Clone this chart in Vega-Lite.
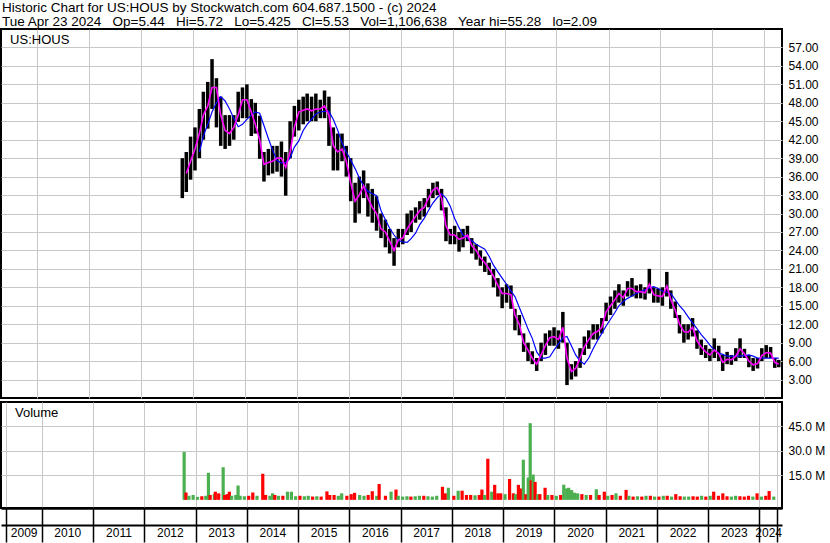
{
  "$schema": "https://vega.github.io/schema/vega-lite/v6.json",
  "padding": {"left": 0, "top": 1, "right": 0, "bottom": 0},
  "background": "white",
  "title": {
    "text": "Historic Chart for US:HOUS by Stockwatch.com 604.687.1500 - (c) 2024",
    "subtitle": "Tue Apr 23 2024 \u00a0 Op=5.44 \u00a0 Hi=5.72 \u00a0 Lo=5.425 \u00a0 Cl=5.53 \u00a0 Vol=1,106,638 \u00a0 Year hi=55.28 \u00a0 lo=2.09",
    "anchor": "start",
    "frame": "bounds",
    "font": "Liberation Sans",
    "subtitleFont": "Liberation Sans",
    "fontSize": 13.5,
    "subtitleFontSize": 13.5,
    "fontWeight": "normal",
    "subtitleFontWeight": "normal",
    "color": "black",
    "subtitleColor": "black",
    "subtitlePadding": 0,
    "offset": 0,
    "dx": 2
  },
  "config": {
    "title": {"fontSize": 13.5, "subtitleFontSize": 13.5, "font": "Liberation Sans", "subtitleFont": "Liberation Sans", "fontWeight": "normal", "color": "black", "subtitleColor": "black"},
    "view": {"stroke": "black", "strokeWidth": 2},
    "axis": {"labelFont": "Liberation Sans", "labelFontSize": 12, "labelColor": "black", "gridColor": "#c8c8c8", "gridOpacity": 1, "gridWidth": 1, "labelOverlap": false},
    "concat": {"spacing": 2}
  },
  "datasets": {
    "px": [
      {"d": "2012-10-18", "l": 32.5, "h": 39},
      {"d": "2012-11-15", "l": 33.5, "h": 40, "m": 36.5},
      {"d": "2012-12-15", "l": 35.5, "h": 42.5, "m": 38.5},
      {"d": "2013-01-15", "l": 37, "h": 44, "m": 40.5},
      {"d": "2013-02-15", "l": 39, "h": 47, "m": 43, "b": 40},
      {"d": "2013-03-15", "l": 42, "h": 49.8, "m": 46, "b": 42.6},
      {"d": "2013-04-15", "l": 43.8, "h": 51.4, "m": 47.5, "b": 44.5},
      {"d": "2013-05-15", "l": 47, "h": 55.1, "m": 50.5, "b": 46.5},
      {"d": "2013-06-15", "l": 44, "h": 52, "m": 50.5, "b": 48},
      {"d": "2013-07-15", "l": 41, "h": 49, "m": 46, "b": 49},
      {"d": "2013-08-15", "l": 40.5, "h": 46, "m": 43.5, "b": 48.3},
      {"d": "2013-09-15", "l": 41, "h": 46, "m": 43, "b": 47},
      {"d": "2013-10-15", "l": 42, "h": 46, "m": 44, "b": 45.5},
      {"d": "2013-11-15", "l": 44.9, "h": 49.8, "m": 46, "b": 44.1},
      {"d": "2013-12-15", "l": 45.5, "h": 50.5, "m": 48.5, "b": 44.5},
      {"d": "2014-01-15", "l": 45.5, "h": 51, "m": 48.5, "b": 45.3},
      {"d": "2014-02-15", "l": 42.6, "h": 48.6, "m": 46.5, "b": 46},
      {"d": "2014-03-15", "l": 43, "h": 48, "m": 44.5, "b": 46.5},
      {"d": "2014-04-15", "l": 38.9, "h": 45.9, "m": 42, "b": 46.3},
      {"d": "2014-05-15", "l": 35.2, "h": 40, "m": 38, "b": 44.3},
      {"d": "2014-06-15", "l": 36.2, "h": 40.5, "m": 38.3, "b": 42.2},
      {"d": "2014-07-15", "l": 36.5, "h": 41, "m": 38.5, "b": 40.3},
      {"d": "2014-08-15", "l": 36.8, "h": 41, "m": 39, "b": 38.6},
      {"d": "2014-09-15", "l": 36, "h": 41.7, "m": 39, "b": 38.2},
      {"d": "2014-10-15", "l": 32.9, "h": 40, "m": 37.5, "b": 38.3},
      {"d": "2014-11-15", "l": 39, "h": 45, "m": 40, "b": 39},
      {"d": "2014-12-15", "l": 42.5, "h": 47.5, "m": 44, "b": 40.8},
      {"d": "2015-01-15", "l": 43.5, "h": 48.5, "m": 46.5, "b": 41.8},
      {"d": "2015-02-15", "l": 44.5, "h": 49, "m": 46.8, "b": 43.5},
      {"d": "2015-03-15", "l": 45, "h": 49.5, "m": 47, "b": 44.5},
      {"d": "2015-04-15", "l": 45, "h": 49, "m": 46.7, "b": 45.3},
      {"d": "2015-05-15", "l": 45, "h": 49.5, "m": 47, "b": 46.2},
      {"d": "2015-06-15", "l": 45.5, "h": 48.5, "m": 47, "b": 46.5},
      {"d": "2015-07-15", "l": 45.5, "h": 50, "m": 47.5, "b": 46.6},
      {"d": "2015-08-15", "l": 41, "h": 49, "m": 46, "b": 46.6},
      {"d": "2015-09-15", "l": 37, "h": 44, "m": 41, "b": 45.3},
      {"d": "2015-10-15", "l": 37, "h": 43, "m": 40, "b": 43.6},
      {"d": "2015-11-15", "l": 38.5, "h": 43, "m": 40.5, "b": 41.5},
      {"d": "2015-12-15", "l": 36, "h": 41, "m": 38.5, "b": 40},
      {"d": "2016-01-15", "l": 32, "h": 39, "m": 35, "b": 38.7},
      {"d": "2016-02-15", "l": 28.5, "h": 35, "m": 32, "b": 37.3},
      {"d": "2016-03-15", "l": 30, "h": 36, "m": 33, "b": 35.8},
      {"d": "2016-04-15", "l": 32.5, "h": 37, "m": 34.5, "b": 34.5},
      {"d": "2016-05-15", "l": 29.5, "h": 34.9, "m": 32.5, "b": 33.6},
      {"d": "2016-06-15", "l": 28.5, "h": 34, "m": 31, "b": 33.2},
      {"d": "2016-07-15", "l": 27.2, "h": 32.8, "m": 30, "b": 32.9},
      {"d": "2016-08-15", "l": 26, "h": 30, "m": 27.5, "b": 30.5},
      {"d": "2016-09-15", "l": 24.5, "h": 29, "m": 27, "b": 29},
      {"d": "2016-10-15", "l": 23.5, "h": 27.5, "m": 25.5, "b": 27.6},
      {"d": "2016-11-15", "l": 21.5, "h": 26, "m": 24, "b": 26.5},
      {"d": "2016-12-15", "l": 24.5, "h": 27.5, "m": 25.7, "b": 25.6},
      {"d": "2017-01-15", "l": 25, "h": 27.5, "m": 26, "b": 25.4},
      {"d": "2017-02-15", "l": 26.5, "h": 30, "m": 27.5, "b": 25.3},
      {"d": "2017-03-15", "l": 27, "h": 30.5, "m": 28.5, "b": 25.9},
      {"d": "2017-04-15", "l": 28.5, "h": 31, "m": 29.5, "b": 26.8},
      {"d": "2017-05-15", "l": 29, "h": 32, "m": 30.5, "b": 28.2},
      {"d": "2017-06-15", "l": 29.5, "h": 32.5, "m": 31, "b": 29.2},
      {"d": "2017-07-15", "l": 31, "h": 34, "m": 32.5, "b": 30.5},
      {"d": "2017-08-15", "l": 32.5, "h": 35, "m": 33.8, "b": 31.7},
      {"d": "2017-09-15", "l": 33, "h": 35.2, "m": 34.2, "b": 32.6},
      {"d": "2017-10-15", "l": 30.5, "h": 34, "m": 32.5, "b": 33.2},
      {"d": "2017-11-15", "l": 25.5, "h": 31, "m": 28, "b": 32.5},
      {"d": "2017-12-15", "l": 25, "h": 27.5, "m": 26.5, "b": 31.2},
      {"d": "2018-01-15", "l": 25, "h": 28, "m": 26.5, "b": 29.2},
      {"d": "2018-02-15", "l": 23.8, "h": 27, "m": 25.8, "b": 27.7},
      {"d": "2018-03-15", "l": 24.5, "h": 27.5, "m": 26, "b": 26.5},
      {"d": "2018-04-15", "l": 25.5, "h": 28, "m": 26.5, "b": 26},
      {"d": "2018-05-15", "l": 23.5, "h": 26, "m": 24.8, "b": 25.6},
      {"d": "2018-06-15", "l": 22.5, "h": 25, "m": 24, "b": 25},
      {"d": "2018-07-15", "l": 21.5, "h": 24, "m": 22.8, "b": 24.6},
      {"d": "2018-08-15", "l": 20.5, "h": 23, "m": 22, "b": 24.2},
      {"d": "2018-09-15", "l": 20, "h": 22, "m": 21, "b": 23},
      {"d": "2018-10-15", "l": 18, "h": 21, "m": 19.8, "b": 21.6},
      {"d": "2018-11-15", "l": 16.5, "h": 19.5, "m": 18.3, "b": 20.5},
      {"d": "2018-12-15", "l": 14.6, "h": 18, "m": 17, "b": 19.5},
      {"d": "2019-01-15", "l": 15.5, "h": 18.5, "m": 17, "b": 18.5},
      {"d": "2019-02-15", "l": 14.5, "h": 18.3, "m": 16.8, "b": 17.4},
      {"d": "2019-03-15", "l": 11, "h": 14.5, "m": 13.5, "b": 16.5},
      {"d": "2019-04-15", "l": 10.2, "h": 13.5, "m": 12, "b": 14.7},
      {"d": "2019-05-15", "l": 7.5, "h": 10.5, "m": 9, "b": 13},
      {"d": "2019-06-15", "l": 6, "h": 9, "m": 7.8, "b": 11.2},
      {"d": "2019-07-15", "l": 5.5, "h": 7.6, "m": 6.5, "b": 9.7},
      {"d": "2019-08-15", "l": 4.4, "h": 6.5, "m": 5.5, "b": 7.5},
      {"d": "2019-09-15", "l": 6, "h": 9, "m": 7, "b": 6.5},
      {"d": "2019-10-15", "l": 7, "h": 10.5, "m": 8.5, "b": 6.5},
      {"d": "2019-11-15", "l": 8.5, "h": 11, "m": 9.8, "b": 6.7},
      {"d": "2019-12-15", "l": 8.5, "h": 11.5, "m": 10, "b": 7.8},
      {"d": "2020-01-15", "l": 8, "h": 11, "m": 9.5, "b": 8.8},
      {"d": "2020-02-15", "l": 9, "h": 14, "m": 11.5, "b": 9.8},
      {"d": "2020-03-15", "l": 2.1, "h": 9, "m": 6.5, "b": 10},
      {"d": "2020-04-15", "l": 3, "h": 5.5, "m": 4.3, "b": 8.5},
      {"d": "2020-05-15", "l": 3.5, "h": 6, "m": 4.8, "b": 7},
      {"d": "2020-06-15", "l": 4.9, "h": 8.1, "m": 6.5, "b": 6},
      {"d": "2020-07-15", "l": 7, "h": 10, "m": 8.3, "b": 5.5},
      {"d": "2020-08-15", "l": 8, "h": 11, "m": 9.5, "b": 6.5},
      {"d": "2020-09-15", "l": 9.5, "h": 12, "m": 10.5, "b": 8},
      {"d": "2020-10-15", "l": 9.5, "h": 12, "m": 10.8, "b": 9.3},
      {"d": "2020-11-15", "l": 10.5, "h": 13, "m": 11.5, "b": 10.5},
      {"d": "2020-12-15", "l": 12.5, "h": 15.5, "m": 14, "b": 11.7},
      {"d": "2021-01-15", "l": 13.5, "h": 16.5, "m": 15, "b": 12.8},
      {"d": "2021-02-15", "l": 14.5, "h": 17.5, "m": 16, "b": 13.9},
      {"d": "2021-03-15", "l": 15.5, "h": 18.5, "m": 17, "b": 15},
      {"d": "2021-04-15", "l": 15, "h": 17.5, "m": 16.3, "b": 15.7},
      {"d": "2021-05-15", "l": 16.5, "h": 19, "m": 17.8, "b": 16.2},
      {"d": "2021-06-15", "l": 16.5, "h": 19.5, "m": 17.8, "b": 16.6},
      {"d": "2021-07-15", "l": 16.2, "h": 18.3, "m": 17.3, "b": 17},
      {"d": "2021-08-15", "l": 16.2, "h": 18.5, "m": 17.3, "b": 17.3},
      {"d": "2021-09-15", "l": 16, "h": 18, "m": 17.1, "b": 17.6},
      {"d": "2021-10-15", "l": 17, "h": 21, "m": 18.5, "b": 17.9},
      {"d": "2021-11-15", "l": 15.5, "h": 18, "m": 16.8, "b": 18.1},
      {"d": "2021-12-15", "l": 15.5, "h": 17.8, "m": 16.6, "b": 17.8},
      {"d": "2022-01-15", "l": 15, "h": 18, "m": 16.5, "b": 17.4},
      {"d": "2022-02-15", "l": 16.5, "h": 20.5, "m": 18.2, "b": 17.2},
      {"d": "2022-03-15", "l": 14.5, "h": 17.5, "m": 16, "b": 17},
      {"d": "2022-04-15", "l": 13, "h": 15.7, "m": 14.3, "b": 16},
      {"d": "2022-05-15", "l": 10.5, "h": 13.5, "m": 12, "b": 15},
      {"d": "2022-06-15", "l": 9, "h": 12, "m": 10.8, "b": 14.2},
      {"d": "2022-07-15", "l": 9.5, "h": 12, "m": 10.7, "b": 13.2},
      {"d": "2022-08-15", "l": 10, "h": 13, "m": 11.5, "b": 12.2},
      {"d": "2022-09-15", "l": 8, "h": 11, "m": 9.3, "b": 11.3},
      {"d": "2022-10-15", "l": 7, "h": 9.5, "m": 8.3, "b": 10.3},
      {"d": "2022-11-15", "l": 6.5, "h": 8.6, "m": 7.5, "b": 9.5},
      {"d": "2022-12-15", "l": 6, "h": 8, "m": 7, "b": 8.6},
      {"d": "2023-01-15", "l": 6.5, "h": 9.7, "m": 7.8, "b": 7.8},
      {"d": "2023-02-15", "l": 6, "h": 8.5, "m": 7.2, "b": 7.3},
      {"d": "2023-03-15", "l": 4.4, "h": 7, "m": 5.8, "b": 7.1},
      {"d": "2023-04-15", "l": 5.5, "h": 7.5, "m": 6.3, "b": 6.8},
      {"d": "2023-05-15", "l": 5.4, "h": 7, "m": 6.2, "b": 6.8},
      {"d": "2023-06-15", "l": 6, "h": 8.1, "m": 6.8, "b": 6.8},
      {"d": "2023-07-15", "l": 6.5, "h": 9.7, "m": 8, "b": 6.8},
      {"d": "2023-08-15", "l": 6.5, "h": 8, "m": 7.2, "b": 6.9},
      {"d": "2023-09-15", "l": 5, "h": 7, "m": 6, "b": 7},
      {"d": "2023-10-15", "l": 4.4, "h": 6.5, "m": 5.4, "b": 6.8},
      {"d": "2023-11-15", "l": 4.8, "h": 6.5, "m": 5.6, "b": 6.5},
      {"d": "2023-12-15", "l": 6, "h": 8.1, "m": 6.9, "b": 6.5},
      {"d": "2024-01-15", "l": 6.5, "h": 8.6, "m": 7.4, "b": 6.5},
      {"d": "2024-02-15", "l": 6.5, "h": 8.3, "m": 7.3, "b": 6.5},
      {"d": "2024-03-15", "l": 4.9, "h": 6.5, "m": 5.8, "b": 6.5},
      {"d": "2024-04-12", "l": 5, "h": 6.2, "m": 5.5, "b": 6.5}
    ],
    "vol": [
      {"d": "2012-10-12", "v": 29.4, "c": "u"},
      {"d": "2012-10-25", "v": 4.5, "c": "r"},
      {"d": "2012-11-15", "v": 2.5, "c": "u"},
      {"d": "2012-12-15", "v": 3, "c": "u"},
      {"d": "2013-01-15", "v": 1.8, "c": "u"},
      {"d": "2013-02-15", "v": 2.2, "c": "r"},
      {"d": "2013-03-15", "v": 2.5, "c": "u"},
      {"d": "2013-04-03", "v": 16.6, "c": "u"},
      {"d": "2013-04-15", "v": 3, "c": "r"},
      {"d": "2013-05-15", "v": 3.5, "c": "u"},
      {"d": "2013-05-22", "v": 5, "c": "r"},
      {"d": "2013-06-15", "v": 4, "c": "r"},
      {"d": "2013-07-17", "v": 20, "c": "u"},
      {"d": "2013-07-28", "v": 3, "c": "r"},
      {"d": "2013-08-15", "v": 3.5, "c": "r"},
      {"d": "2013-08-30", "v": 5, "c": "r"},
      {"d": "2013-09-15", "v": 2.5, "c": "u"},
      {"d": "2013-10-15", "v": 3, "c": "u"},
      {"d": "2013-10-31", "v": 8.8, "c": "u"},
      {"d": "2013-11-15", "v": 2.5, "c": "u"},
      {"d": "2013-12-15", "v": 2.2, "c": "u"},
      {"d": "2014-01-15", "v": 2.5, "c": "r"},
      {"d": "2014-02-13", "v": 4.5, "c": "r"},
      {"d": "2014-03-15", "v": 2.5, "c": "u"},
      {"d": "2014-04-25", "v": 16, "c": "r"},
      {"d": "2014-05-15", "v": 3, "c": "r"},
      {"d": "2014-06-15", "v": 2.5, "c": "u"},
      {"d": "2014-07-04", "v": 4, "c": "u"},
      {"d": "2014-07-20", "v": 3, "c": "r"},
      {"d": "2014-08-15", "v": 2.5, "c": "u"},
      {"d": "2014-09-15", "v": 2.5, "c": "r"},
      {"d": "2014-10-18", "v": 5, "c": "u"},
      {"d": "2014-11-15", "v": 5, "c": "u"},
      {"d": "2014-12-15", "v": 2.2, "c": "u"},
      {"d": "2015-01-15", "v": 2.5, "c": "r"},
      {"d": "2015-02-15", "v": 2.2, "c": "u"},
      {"d": "2015-03-15", "v": 2.5, "c": "u"},
      {"d": "2015-04-15", "v": 2, "c": "r"},
      {"d": "2015-05-15", "v": 2.2, "c": "u"},
      {"d": "2015-06-15", "v": 2, "c": "r"},
      {"d": "2015-07-26", "v": 5.2, "c": "r"},
      {"d": "2015-08-15", "v": 3, "c": "r"},
      {"d": "2015-09-15", "v": 3, "c": "r"},
      {"d": "2015-10-15", "v": 2.5, "c": "u"},
      {"d": "2015-11-08", "v": 4, "c": "u"},
      {"d": "2015-12-15", "v": 2.5, "c": "r"},
      {"d": "2016-01-15", "v": 3.5, "c": "r"},
      {"d": "2016-02-08", "v": 4.3, "c": "r"},
      {"d": "2016-03-15", "v": 3, "c": "u"},
      {"d": "2016-04-15", "v": 2.5, "c": "u"},
      {"d": "2016-05-15", "v": 3, "c": "r"},
      {"d": "2016-06-13", "v": 5.3, "c": "r"},
      {"d": "2016-07-15", "v": 2.5, "c": "u"},
      {"d": "2016-08-01", "v": 9.7, "c": "r"},
      {"d": "2016-09-15", "v": 2.5, "c": "r"},
      {"d": "2016-10-25", "v": 5, "c": "u"},
      {"d": "2016-11-29", "v": 6.3, "c": "r"},
      {"d": "2016-12-15", "v": 2.5, "c": "u"},
      {"d": "2017-01-15", "v": 2, "c": "u"},
      {"d": "2017-02-15", "v": 2.2, "c": "u"},
      {"d": "2017-03-15", "v": 2, "c": "r"},
      {"d": "2017-04-15", "v": 2.2, "c": "u"},
      {"d": "2017-05-15", "v": 2.5, "c": "u"},
      {"d": "2017-06-15", "v": 2.5, "c": "r"},
      {"d": "2017-07-15", "v": 2.2, "c": "u"},
      {"d": "2017-08-15", "v": 2, "c": "u"},
      {"d": "2017-09-15", "v": 2.5, "c": "u"},
      {"d": "2017-10-26", "v": 8, "c": "r"},
      {"d": "2017-11-15", "v": 4, "c": "r"},
      {"d": "2017-12-07", "v": 7.4, "c": "u"},
      {"d": "2018-01-15", "v": 2.5, "c": "r"},
      {"d": "2018-02-15", "v": 5.6, "c": "u"},
      {"d": "2018-03-15", "v": 5.6, "c": "r"},
      {"d": "2018-04-15", "v": 3, "c": "r"},
      {"d": "2018-05-15", "v": 3, "c": "r"},
      {"d": "2018-06-15", "v": 2.8, "c": "u"},
      {"d": "2018-07-15", "v": 3, "c": "r"},
      {"d": "2018-08-03", "v": 6.3, "c": "r"},
      {"d": "2018-08-22", "v": 3, "c": "u"},
      {"d": "2018-09-14", "v": 25.2, "c": "r"},
      {"d": "2018-10-12", "v": 5, "c": "u"},
      {"d": "2018-11-02", "v": 9.2, "c": "r"},
      {"d": "2018-11-25", "v": 4, "c": "r"},
      {"d": "2018-12-15", "v": 4, "c": "r"},
      {"d": "2019-01-15", "v": 3.5, "c": "u"},
      {"d": "2019-02-16", "v": 12.8, "c": "r"},
      {"d": "2019-03-15", "v": 4, "c": "r"},
      {"d": "2019-03-30", "v": 3.5, "c": "u"},
      {"d": "2019-04-20", "v": 9.2, "c": "r"},
      {"d": "2019-05-11", "v": 7, "c": "r"},
      {"d": "2019-05-25", "v": 24.6, "c": "u"},
      {"d": "2019-06-12", "v": 3.5, "c": "r"},
      {"d": "2019-06-29", "v": 13.7, "c": "u"},
      {"d": "2019-07-13", "v": 47, "c": "u"},
      {"d": "2019-07-20", "v": 12, "c": "r"},
      {"d": "2019-08-03", "v": 15.5, "c": "u"},
      {"d": "2019-08-17", "v": 11, "c": "r"},
      {"d": "2019-09-05", "v": 3.5, "c": "u"},
      {"d": "2019-09-20", "v": 3.5, "c": "r"},
      {"d": "2019-10-27", "v": 7.4, "c": "r"},
      {"d": "2019-11-15", "v": 3, "c": "u"},
      {"d": "2019-12-15", "v": 3, "c": "r"},
      {"d": "2020-01-15", "v": 2.5, "c": "u"},
      {"d": "2020-02-15", "v": 3, "c": "r"},
      {"d": "2020-03-08", "v": 9.3, "c": "u"},
      {"d": "2020-03-29", "v": 7, "c": "u"},
      {"d": "2020-04-12", "v": 7.4, "c": "u"},
      {"d": "2020-05-03", "v": 6, "c": "u"},
      {"d": "2020-05-24", "v": 4.4, "c": "u"},
      {"d": "2020-06-15", "v": 4, "c": "u"},
      {"d": "2020-07-15", "v": 3.5, "c": "r"},
      {"d": "2020-08-15", "v": 3, "c": "u"},
      {"d": "2020-09-15", "v": 3, "c": "r"},
      {"d": "2020-10-26", "v": 6.5, "c": "u"},
      {"d": "2020-11-15", "v": 3, "c": "r"},
      {"d": "2020-12-22", "v": 5, "c": "r"},
      {"d": "2021-01-15", "v": 2.5, "c": "u"},
      {"d": "2021-02-15", "v": 3, "c": "r"},
      {"d": "2021-03-15", "v": 4, "c": "u"},
      {"d": "2021-04-15", "v": 2.5, "c": "r"},
      {"d": "2021-05-26", "v": 6.1, "c": "r"},
      {"d": "2021-06-15", "v": 2.5, "c": "u"},
      {"d": "2021-07-15", "v": 2, "c": "r"},
      {"d": "2021-08-15", "v": 2.2, "c": "u"},
      {"d": "2021-09-15", "v": 2, "c": "r"},
      {"d": "2021-10-15", "v": 2.5, "c": "u"},
      {"d": "2021-11-15", "v": 2.5, "c": "r"},
      {"d": "2021-12-15", "v": 2, "c": "u"},
      {"d": "2022-01-15", "v": 2, "c": "r"},
      {"d": "2022-02-15", "v": 2.5, "c": "u"},
      {"d": "2022-03-15", "v": 2.5, "c": "r"},
      {"d": "2022-04-15", "v": 2, "c": "u"},
      {"d": "2022-05-15", "v": 3.5, "c": "r"},
      {"d": "2022-06-15", "v": 2.2, "c": "r"},
      {"d": "2022-07-15", "v": 2, "c": "u"},
      {"d": "2022-08-15", "v": 2, "c": "u"},
      {"d": "2022-09-15", "v": 2.2, "c": "r"},
      {"d": "2022-10-15", "v": 2, "c": "r"},
      {"d": "2022-11-15", "v": 2.5, "c": "u"},
      {"d": "2022-12-15", "v": 2, "c": "r"},
      {"d": "2023-01-15", "v": 2.5, "c": "u"},
      {"d": "2023-02-09", "v": 5, "c": "r"},
      {"d": "2023-03-15", "v": 2.5, "c": "r"},
      {"d": "2023-04-15", "v": 4, "c": "r"},
      {"d": "2023-05-15", "v": 2.2, "c": "r"},
      {"d": "2023-06-15", "v": 2, "c": "u"},
      {"d": "2023-07-15", "v": 2.5, "c": "u"},
      {"d": "2023-08-15", "v": 2.2, "c": "r"},
      {"d": "2023-09-15", "v": 2, "c": "r"},
      {"d": "2023-10-15", "v": 2.5, "c": "r"},
      {"d": "2023-11-15", "v": 2, "c": "u"},
      {"d": "2023-12-15", "v": 4, "c": "r"},
      {"d": "2024-01-15", "v": 2, "c": "u"},
      {"d": "2024-02-15", "v": 2.5, "c": "r"},
      {"d": "2024-03-10", "v": 5.4, "c": "r"},
      {"d": "2024-04-12", "v": 2, "c": "u"}
    ]
  },
  "vconcat": [
    {
      "width": 781,
      "height": 369,
      "layer": [
        {
          "data": {"name": "px"},
          "mark": {"type": "rule", "color": "black", "strokeWidth": 3.5},
          "encoding": {
            "x": {
              "field": "d", "type": "temporal",
              "scale": {"domain": [{"year": 2009, "month": 4, "date": 22}, {"year": 2024, "month": 5, "date": 5}]},
              "axis": {
                "values": [
                  {"year": 2010, "month": 1, "date": 1}, {"year": 2011, "month": 1, "date": 1}, {"year": 2012, "month": 1, "date": 1},
                  {"year": 2013, "month": 1, "date": 1}, {"year": 2014, "month": 1, "date": 1}, {"year": 2015, "month": 1, "date": 1},
                  {"year": 2016, "month": 1, "date": 1}, {"year": 2017, "month": 1, "date": 1}, {"year": 2018, "month": 1, "date": 1},
                  {"year": 2019, "month": 1, "date": 1}, {"year": 2020, "month": 1, "date": 1}, {"year": 2021, "month": 1, "date": 1},
                  {"year": 2022, "month": 1, "date": 1}, {"year": 2023, "month": 1, "date": 1}, {"year": 2024, "month": 1, "date": 1}
                ],
                "tickCount": 40,
                "grid": true, "labels": false, "ticks": false, "domain": false, "title": null
              }
            },
            "y": {
              "field": "l", "type": "quantitative",
              "scale": {"domain": [0, 60]},
              "axis": {
                "orient": "right",
                "values": [3, 6, 9, 12, 15, 18, 21, 24, 27, 30, 33, 36, 39, 42, 45, 48, 51, 54, 57],
                "tickCount": 40,
                "format": ".2f", "grid": true, "ticks": false, "domain": false, "labelPadding": 6, "labelOverlap": false, "title": null
              }
            },
            "y2": {"field": "h"}
          }
        },
        {
          "data": {"name": "px"},
          "mark": {"type": "line", "color": "#0000ff", "strokeWidth": 1.2},
          "encoding": {
            "x": {"field": "d", "type": "temporal"},
            "y": {"field": "b", "type": "quantitative"}
          }
        },
        {
          "data": {"name": "px"},
          "mark": {"type": "line", "color": "#ff00ff", "strokeWidth": 1.6},
          "encoding": {
            "x": {"field": "d", "type": "temporal"},
            "y": {"field": "m", "type": "quantitative"}
          }
        },
        {
          "data": {"values": [{"d": "2009-06-25", "p": 57.5, "t": "US:HOUS"}]},
          "mark": {"type": "text", "align": "left", "baseline": "alphabetic", "fontSize": 13, "font": "Liberation Sans", "color": "black"},
          "encoding": {
            "x": {"field": "d", "type": "temporal"},
            "y": {"field": "p", "type": "quantitative"},
            "text": {"field": "t"}
          }
        }
      ]
    },
    {
      "width": 781,
      "height": 106,
      "resolve": {"axis": {"x": "independent"}},
      "layer": [
        {
          "data": {"name": "vol"},
          "mark": {"type": "bar", "width": 3.2},
          "encoding": {
            "x": {
              "field": "d", "type": "temporal",
              "scale": {"domain": [{"year": 2009, "month": 4, "date": 22}, {"year": 2024, "month": 5, "date": 5}]},
              "axis": {
                "orient": "bottom",
                "values": [
                  {"year": 2009, "month": 4, "date": 22},
                  {"year": 2010, "month": 1, "date": 1}, {"year": 2011, "month": 1, "date": 1}, {"year": 2012, "month": 1, "date": 1},
                  {"year": 2013, "month": 1, "date": 1}, {"year": 2014, "month": 1, "date": 1}, {"year": 2015, "month": 1, "date": 1},
                  {"year": 2016, "month": 1, "date": 1}, {"year": 2017, "month": 1, "date": 1}, {"year": 2018, "month": 1, "date": 1},
                  {"year": 2019, "month": 1, "date": 1}, {"year": 2020, "month": 1, "date": 1}, {"year": 2021, "month": 1, "date": 1},
                  {"year": 2022, "month": 1, "date": 1}, {"year": 2023, "month": 1, "date": 1}, {"year": 2024, "month": 1, "date": 1},
                  {"year": 2024, "month": 5, "date": 5}
                ],
                "tickCount": 40,
                "grid": true, "labels": false, "ticks": true, "tickSize": 34, "tickColor": "black", "tickWidth": 1.5,
                "domain": true, "domainColor": "black", "domainWidth": 2.5, "title": null
              }
            },
            "y": {
              "field": "v", "type": "quantitative",
              "scale": {"domain": [-0.9, 60]},
              "axis": {
                "orient": "right", "values": [15, 30, 45], "tickCount": 10,
                "labelExpr": "format(datum.value, '.1f') + ' M'",
                "grid": true, "ticks": false, "domain": false, "labelPadding": 6, "title": null
              }
            },
            "color": {
              "field": "c", "type": "nominal",
              "scale": {"domain": ["u", "r"], "range": ["#4caf50", "#ff0000"]},
              "legend": null
            }
          }
        },
        {
          "data": {"values": [{"d": "2009-06-25", "v": 51, "t": "Volume"}]},
          "mark": {"type": "text", "align": "left", "baseline": "alphabetic", "fontSize": 13, "font": "Liberation Sans", "color": "black"},
          "encoding": {
            "x": {
              "field": "d", "type": "temporal",
              "axis": {
                "orient": "bottom", "offset": 17,
                "values": [
                  {"year": 2009, "month": 8, "date": 26},
                  {"year": 2010, "month": 7, "date": 2}, {"year": 2011, "month": 7, "date": 2}, {"year": 2012, "month": 7, "date": 2},
                  {"year": 2013, "month": 7, "date": 2}, {"year": 2014, "month": 7, "date": 2}, {"year": 2015, "month": 7, "date": 2},
                  {"year": 2016, "month": 7, "date": 2}, {"year": 2017, "month": 7, "date": 2}, {"year": 2018, "month": 7, "date": 2},
                  {"year": 2019, "month": 7, "date": 2}, {"year": 2020, "month": 7, "date": 2}, {"year": 2021, "month": 7, "date": 2},
                  {"year": 2022, "month": 7, "date": 2}, {"year": 2023, "month": 7, "date": 2}, {"year": 2024, "month": 3, "date": 3}
                ],
                "tickCount": 40,
                "labelExpr": "timeFormat(datum.value, '%Y')",
                "grid": false, "ticks": false, "domain": true, "domainColor": "black", "domainWidth": 2,
                "labelPadding": 2, "labelBaseline": "top", "labelFlush": false, "labelOverlap": false, "title": null
              }
            },
            "y": {"field": "v", "type": "quantitative"},
            "text": {"field": "t"}
          }
        }
      ]
    }
  ]
}
